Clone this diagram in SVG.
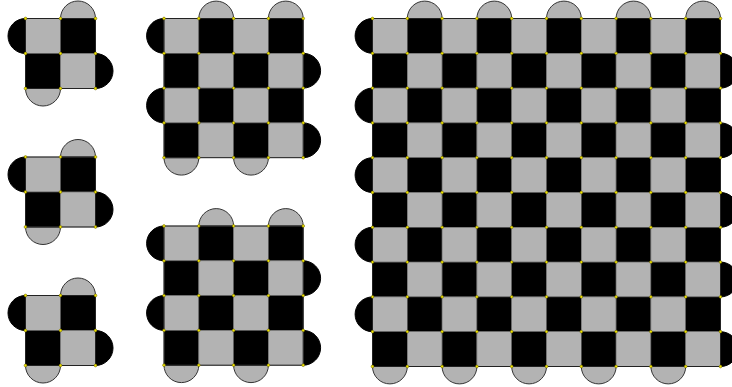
<svg xmlns="http://www.w3.org/2000/svg" width="732" height="387" viewBox="0 0 732 387">
<style>
.g{fill:#b3b3b3;stroke:#333;stroke-width:1}
.k{fill:#000;stroke:#000;stroke-width:1}
.cg{fill:#b3b3b3;stroke:#666;stroke-width:0.6}
.ck{fill:#000;stroke:#666;stroke-width:0.6}
.edge{fill:none;stroke:#222;stroke-width:1}
.dr{fill:none;stroke:none;marker-start:url(#dot);marker-mid:url(#dot);marker-end:url(#dot)}
</style>
<defs>
<marker id="dot" markerUnits="userSpaceOnUse" viewBox="0 0 4 4" refX="2" refY="2" markerWidth="4" markerHeight="4" overflow="visible">
<circle cx="2" cy="2" r="1.4" fill="#f2e600" stroke="#5a5200" stroke-width="0.5"/>
</marker>
<path id="bt" d="M0 0A17.5 17.5 0 0 1 35 0Z"/>
<path id="bb" d="M35 0A17.5 17.5 0 0 1 0 0Z"/>
<path id="bl" d="M0 35A17.5 17.5 0 0 1 0 0Z"/>
<path id="br" d="M0 0A17.5 17.5 0 0 1 0 35Z"/>
<g id="pair2">
<rect class="cg" x="0" y="0" width="35" height="35"/><rect class="ck" x="35" y="0" width="35" height="35"/>
<rect class="ck" x="0" y="35" width="35" height="35"/><rect class="cg" x="35" y="35" width="35" height="35"/>
</g>
<g id="pair4">
<rect class="cg" x="0" y="0" width="35" height="35"/><rect class="ck" x="35" y="0" width="35" height="35"/>
<rect class="cg" x="70" y="0" width="35" height="35"/><rect class="ck" x="105" y="0" width="35" height="35"/>
<rect class="ck" x="0" y="35" width="35" height="35"/><rect class="cg" x="35" y="35" width="35" height="35"/>
<rect class="ck" x="70" y="35" width="35" height="35"/><rect class="cg" x="105" y="35" width="35" height="35"/>
</g>
<g id="pair10">
<rect class="cg" x="0" y="0" width="35" height="35"/><rect class="ck" x="35" y="0" width="35" height="35"/>
<rect class="cg" x="70" y="0" width="35" height="35"/><rect class="ck" x="105" y="0" width="35" height="35"/>
<rect class="cg" x="140" y="0" width="35" height="35"/><rect class="ck" x="175" y="0" width="35" height="35"/>
<rect class="cg" x="210" y="0" width="35" height="35"/><rect class="ck" x="245" y="0" width="35" height="35"/>
<rect class="cg" x="280" y="0" width="35" height="35"/><rect class="ck" x="315" y="0" width="35" height="35"/>
<rect class="ck" x="0" y="35" width="35" height="35"/><rect class="cg" x="35" y="35" width="35" height="35"/>
<rect class="ck" x="70" y="35" width="35" height="35"/><rect class="cg" x="105" y="35" width="35" height="35"/>
<rect class="ck" x="140" y="35" width="35" height="35"/><rect class="cg" x="175" y="35" width="35" height="35"/>
<rect class="ck" x="210" y="35" width="35" height="35"/><rect class="cg" x="245" y="35" width="35" height="35"/>
<rect class="ck" x="280" y="35" width="35" height="35"/><rect class="cg" x="315" y="35" width="35" height="35"/>
</g>
<path id="d2" class="dr" d="M0 0h35h35"/>
<path id="d4" class="dr" d="M0 0h35h35h35h35"/>
<path id="d10" class="dr" d="M0 0h35h35h35h35h35h35h35h35h35h35"/>
</defs>

<g id="small1" transform="translate(25.5,18.5)">
<use href="#bt" class="g" x="35" y="0"/>
<use href="#bl" class="k" x="0" y="0"/>
<use href="#br" class="k" x="70" y="35"/>
<use href="#bb" class="g" x="0" y="70"/>
<use href="#pair2"/>
<rect class="edge" width="70" height="70"/>
<use href="#d2" y="0"/><use href="#d2" y="35"/><use href="#d2" y="70"/>
</g>

<g id="small2" transform="translate(25.5,157)">
<use href="#bt" class="g" x="35" y="0"/>
<use href="#bl" class="k" x="0" y="0"/>
<use href="#br" class="k" x="70" y="35"/>
<use href="#bb" class="g" x="0" y="70"/>
<use href="#pair2"/>
<rect class="edge" width="70" height="70"/>
<use href="#d2" y="0"/><use href="#d2" y="35"/><use href="#d2" y="70"/>
</g>

<g id="small3" transform="translate(25.5,295.5)">
<use href="#bt" class="g" x="35" y="0"/>
<use href="#bl" class="k" x="0" y="0"/>
<use href="#br" class="k" x="70" y="35"/>
<use href="#bb" class="g" x="0" y="70"/>
<use href="#pair2"/>
<rect class="edge" width="70" height="70"/>
<use href="#d2" y="0"/><use href="#d2" y="35"/><use href="#d2" y="70"/>
</g>

<g id="medium1" transform="translate(164,18.5) scale(0.9943)">
<use href="#bt" class="g" x="35" y="0"/>
<use href="#bt" class="g" x="105" y="0"/>
<use href="#bl" class="k" x="0" y="0"/>
<use href="#bl" class="k" x="0" y="70"/>
<use href="#br" class="k" x="140" y="35"/>
<use href="#br" class="k" x="140" y="105"/>
<use href="#bb" class="g" x="0" y="140"/>
<use href="#bb" class="g" x="70" y="140"/>
<use href="#pair4" y="0"/><use href="#pair4" y="70"/>
<rect class="edge" width="140" height="140"/>
<use href="#d4" y="0"/><use href="#d4" y="35"/><use href="#d4" y="70"/><use href="#d4" y="105"/><use href="#d4" y="140"/>
</g>

<g id="medium2" transform="translate(164,226) scale(0.9943)">
<use href="#bt" class="g" x="35" y="0"/>
<use href="#bt" class="g" x="105" y="0"/>
<use href="#bl" class="k" x="0" y="0"/>
<use href="#bl" class="k" x="0" y="70"/>
<use href="#br" class="k" x="140" y="35"/>
<use href="#br" class="k" x="140" y="105"/>
<use href="#bb" class="g" x="0" y="140"/>
<use href="#bb" class="g" x="70" y="140"/>
<use href="#pair4" y="0"/><use href="#pair4" y="70"/>
<rect class="edge" width="140" height="140"/>
<use href="#d4" y="0"/><use href="#d4" y="35"/><use href="#d4" y="70"/><use href="#d4" y="105"/><use href="#d4" y="140"/>
</g>

<g id="large" transform="translate(372.5,18.5) scale(0.9943)">
<use href="#bt" class="g" x="35" y="0"/>
<use href="#bt" class="g" x="105" y="0"/>
<use href="#bt" class="g" x="175" y="0"/>
<use href="#bt" class="g" x="245" y="0"/>
<use href="#bt" class="g" x="315" y="0"/>
<use href="#bl" class="k" x="0" y="0"/>
<use href="#bl" class="k" x="0" y="70"/>
<use href="#bl" class="k" x="0" y="140"/>
<use href="#bl" class="k" x="0" y="210"/>
<use href="#bl" class="k" x="0" y="280"/>
<use href="#br" class="k" x="350" y="35"/>
<use href="#br" class="k" x="350" y="105"/>
<use href="#br" class="k" x="350" y="175"/>
<use href="#br" class="k" x="350" y="245"/>
<use href="#br" class="k" x="350" y="315"/>
<use href="#bb" class="g" x="0" y="350"/>
<use href="#bb" class="g" x="70" y="350"/>
<use href="#bb" class="g" x="140" y="350"/>
<use href="#bb" class="g" x="210" y="350"/>
<use href="#bb" class="g" x="280" y="350"/>
<use href="#pair10" y="0"/><use href="#pair10" y="70"/><use href="#pair10" y="140"/><use href="#pair10" y="210"/><use href="#pair10" y="280"/>
<rect class="edge" width="350" height="350"/>
<use href="#d10" y="0"/><use href="#d10" y="35"/><use href="#d10" y="70"/><use href="#d10" y="105"/><use href="#d10" y="140"/><use href="#d10" y="175"/><use href="#d10" y="210"/><use href="#d10" y="245"/><use href="#d10" y="280"/><use href="#d10" y="315"/><use href="#d10" y="350"/>
</g>
</svg>
